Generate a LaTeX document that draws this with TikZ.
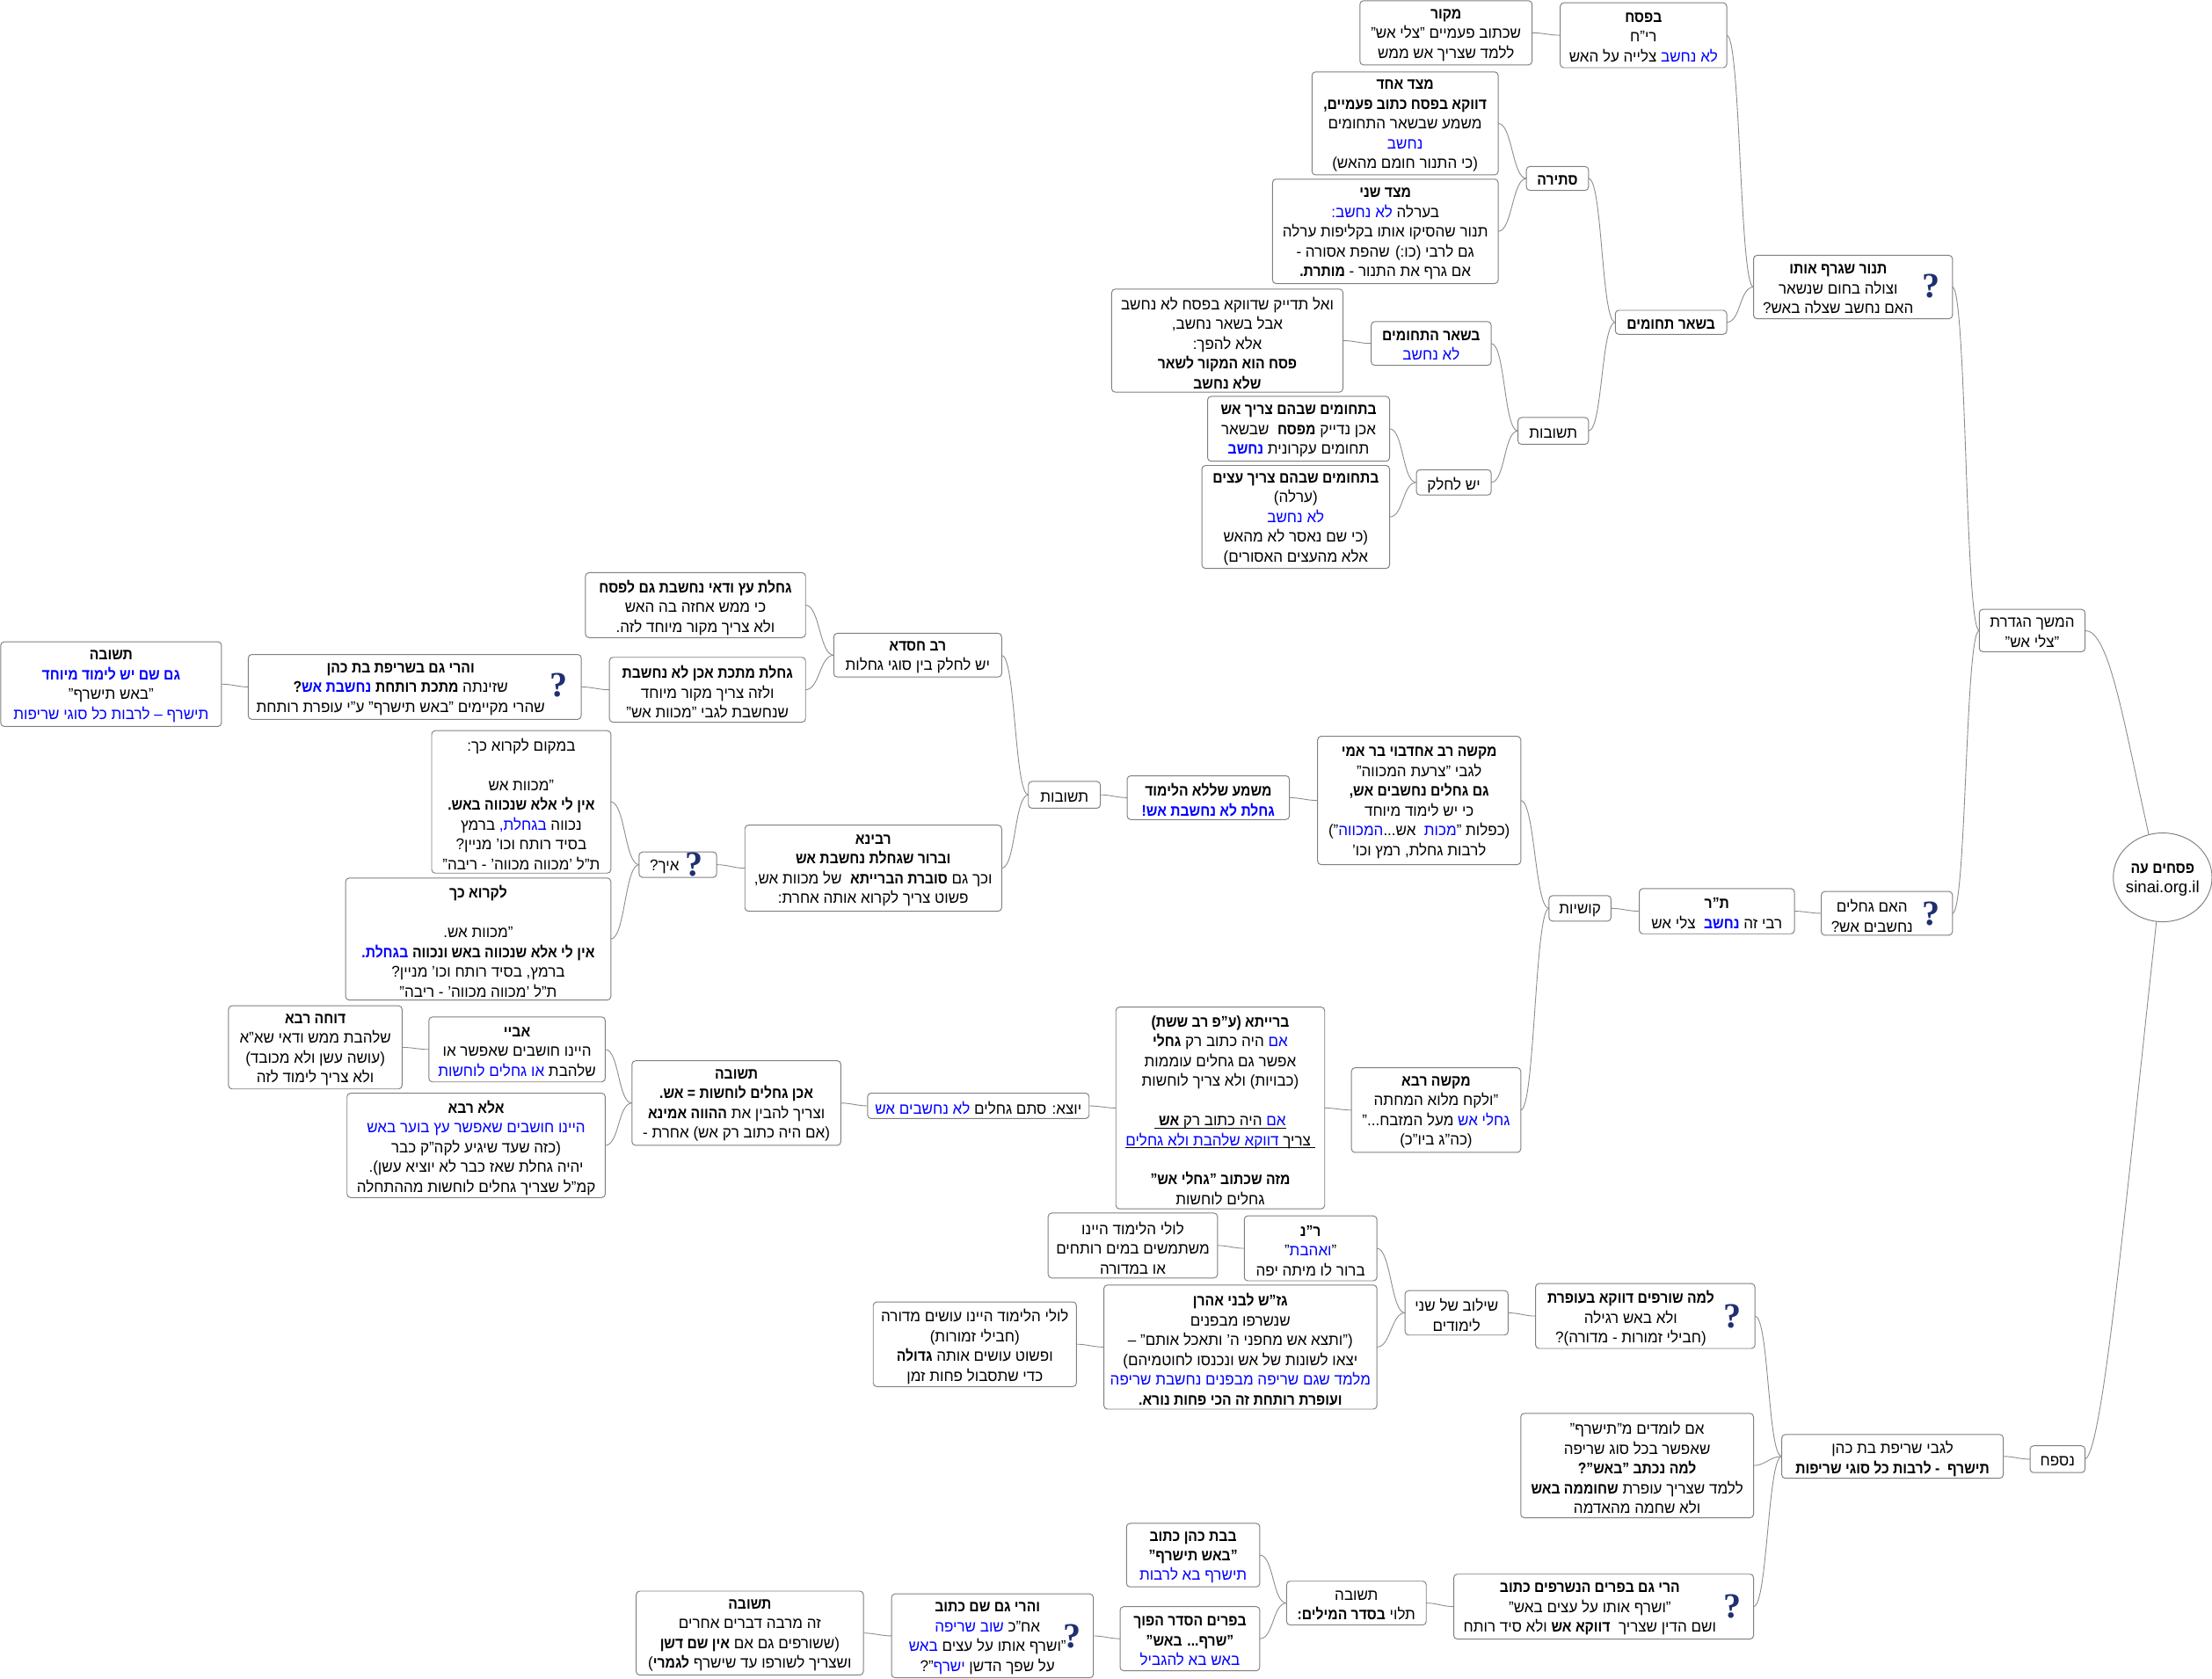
\documentclass[tikz,border=0pt]{standalone}
\usepackage{fontspec}
\usetikzlibrary{shapes.geometric}
\setmainfont[Script=Hebrew,FakeStretch=0.965,BoldFeatures={FakeStretch=0.89}]{Liberation Sans}
\newfontfamily\qfont{Liberation Serif}
\newfontfamily\latinfont{Liberation Sans}
\TeXXeTstate=1
\definecolor{edgegray}{HTML}{8C8C8C}
\definecolor{boxgray}{HTML}{808080}
\definecolor{qnavy}{HTML}{1F2F70}
\newcommand\rl[1]{\beginR #1\endR}
\newcommand\bl[1]{\textcolor{blue}{\rl{#1}}}
\newcommand\B[1]{\textbf{#1}}
\newcommand\gap{\mbox{}}
\newcommand\ulline[1]{\vtop{\hbox{#1}\kern-.6pt\hrule height .55pt}}
\tikzset{
  mapbox/.style={draw=boxgray,line width=.6pt,rounded corners=2.5pt,fill=white,inner sep=0pt,outer sep=0pt},
  maptext/.style={inner sep=0pt,outer sep=0pt,align=center,font=\fontsize{11}{14}\selectfont},
  qicon/.style={inner sep=0pt,outer sep=0pt,text=qnavy,font=\fontsize{25}{25}\qfont\bfseries},
  rootshape/.style={ellipse,draw=boxgray,line width=.6pt,fill=white,inner sep=0pt,outer sep=0pt},
  link/.style={draw=edgegray,line width=.55pt,out=0,in=180,max distance=10pt},
  rootlink/.style={draw=edgegray,line width=.55pt}
}
% name x1 y1 x2 y2 content
\newcommand\bx[6]{\node[mapbox,minimum width={(#4-#2)*1pt},minimum height={(#5-#3)*1pt}] (#1) at ({(#2+#4)/2},{(#3+#5)/2}) {};
  \node[maptext] (#1t) at ({(#2+#4)/2},{(#3+#5)/2+1.7}) {#6};}
% name x1 y1 x2 y2 textcx qx qy content
\newcommand\bxq[9]{\node[mapbox,minimum width={(#4-#2)*1pt},minimum height={(#5-#3)*1pt}] (#1) at ({(#2+#4)/2},{(#3+#5)/2}) {};
  \node[maptext] (#1t) at (#6,{(#3+#5)/2+1.7}) {#9};
  \node[qicon] (#1q) at (#7,#8) {?};}
\begin{document}
\begin{tikzpicture}[x=1pt,y=-1pt]
\useasboundingbox (0,0) rectangle (1568,1190);
\fill[white] (0,0) rectangle (1568,1190);
% root
\node[rootshape,minimum width=70pt,minimum height=63pt] (root) at (1533,622) {};
\node[maptext] (roott) at (1533,624) {\rl{\B{פסחים עה}}\\{\latinfont\fontsize{11.6}{14}\selectfont sinai.org.il}};
% level 1
\bx{hemshech}{1403}{432}{1478}{462}{\rl{המשך הגדרת}\\\rl{"צלי אש"}}
\bx{nisfach}{1439}{1025}{1478}{1044}{\rl{נספח}}
% upper branch
\bxq{hagech}{1291}{632}{1384}{663}{1327}{1369}{648}{\rl{האם גחלים}\\\rl{נחשבים אש?}}
\bxq{tanur}{1243}{181}{1384}{226}{1303}{1369}{203}{\rl{\B{תנור שגרף אותו}}\\\rl{וצולה בחום שנשאר}\\\rl{האם נחשב שצלה באש?}}
\bx{sheart}{1145}{220}{1224}{237}{\rl{\B{בשאר תחומים}}}
\bx{pesach}{1106}{2}{1224}{48}{\rl{\B{בפסח}}\\\rl{רי"ח}\\\rl{צלייה על האש}\ \bl{לא נחשב}}
\bx{mekor}{964}{0.5}{1086}{46}{\rl{\B{מקור}}\\\rl{שכתוב פעמיים "צלי אש"}\\\rl{ללמד שצריך אש ממש}}
\bx{stira}{1082}{118}{1126}{135}{\rl{\B{סתירה}}}
\bx{mitzad1}{930}{51}{1062}{124}{\rl{\B{מצד אחד}}\\\rl{\B{דווקא בפסח כתוב פעמיים,}}\\\rl{משמע שבשאר התחומים}\\\bl{נחשב}\\\rl{(כי התנור חומם מהאש)}}
\bx{mitzad2}{902}{127}{1062}{201}{\rl{\B{מצד שני}}\\\bl{לא נחשב:}\ \rl{בערלה}\\\rl{תנור שהסיקו אותו בקליפות ערלה}\\\rl{גם לרבי (כו:) שהפת אסורה -}\\\rl{אם גרף את התנור - \B{מותרת.}}}
\bx{teshuvot}{1076}{296}{1126}{315}{\rl{תשובות}}
\bx{bshear}{972}{228}{1057}{259}{\rl{\B{בשאר התחומים}}\\\bl{לא נחשב}}
\bx{altadayek}{788}{205}{952}{278}{\rl{ואל תדייק שדווקא בפסח לא נחשב}\\\rl{אבל בשאר נחשב,}\\\rl{אלא להפך:}\\\rl{\B{פסח הוא המקור לשאר}}\\\rl{\B{שלא נחשב}}}
\bx{yesh}{1004}{333}{1057}{351}{\rl{יש לחלק}}
\bx{tchesh}{856}{281}{985}{327}{\rl{\B{בתחומים שבהם צריך אש}}\\\rl{אכן נדייק \B{מפסח}\ \ שבשאר}\\\bl{\B{נחשב}}\ \rl{תחומים עקרונית}}
\bx{tchetz}{852}{330}{985}{403}{\rl{\B{בתחומים שבהם צריך עצים}}\\\rl{(ערלה)}\\\bl{לא נחשב}\\\rl{(כי שם נאסר לא מהאש}\\\rl{אלא מהעצים האסורים)}}
% middle branch
\bx{tr}{1162}{630}{1272}{662}{\rl{\B{ת"ר}}\\\rl{צלי אש}\ \ \bl{\B{נחשב}}\ \rl{רבי זה}}
\bx{kushiot}{1098}{635}{1142}{653}{\rl{קושיות}}
\bx{maksha}{934}{522}{1078}{613}{\rl{\B{מקשה רב אחדבוי בר אמי}}\\\rl{לגבי "צרעת המכווה"}\\\rl{\B{גם גחלים נחשבים אש,}}\\\rl{כי יש לימוד מיוחד}\\\rl{")}\bl{המכווה}\rl{אש...}\ \ \bl{מכות}\rl{(כפלות "}\\\rl{לרבות גחלת, רמץ וכו'}}
\bx{mashma}{799}{550}{914}{581}{\rl{\B{משמע שללא הלימוד}}\\\bl{\B{גחלת לא נחשבת אש!}}}
\bx{teshuvotb}{729}{554}{780}{573}{\rl{תשובות}}
\bx{chisda}{591}{449}{710}{480}{\rl{\B{רב חסדא}}\\\rl{יש לחלק בין סוגי גחלות}}
\bx{ravina}{528}{585}{710}{646}{\rl{\B{רבינא}}\\\rl{\B{וברור שגחלת נחשבת אש}}\\\rl{וכך גם \B{סוברת הברייתא}\ \ של מכוות אש,}\\\rl{פשוט צריך לקרוא אותה אחרת:}}
\bx{gachetz}{415}{406}{571}{452}{\rl{\B{גחלת עץ ודאי נחשבת גם לפסח}}\\\rl{כי ממש אחזה בה האש}\\\rl{ולא צריך מקור מיוחד לזה.}}
\bx{gachmat}{432}{466}{571}{512}{\rl{\B{גחלת מתכת אכן לא נחשבת}}\\\rl{ולזה צריך מקור מיוחד}\\\rl{שנחשבת לגבי "מכוות אש"}}
\bxq{vaharei}{176}{464}{412}{510}{284}{396}{486}{\rl{\B{והרי גם בשריפת בת כהן}}\\\rl{\B{?}}\bl{\B{נחשבת אש}}\ \rl{שזינתה \B{מתכת רותחת}}\\\rl{שהרי מקיימים "באש תישרף" ע"י עופרת רותחת}}
\bx{teshl}{0.5}{455}{157}{515}{\rl{\B{תשובה}}\\\bl{\B{גם שם יש לימוד מיוחד}}\\\rl{"באש תישרף"}\\\bl{תישרף – לרבות כל סוגי שריפות}}
\bxq{ech}{453}{604}{508}{622}{471}{492}{613}{\rl{איך?}}
\bx{bamakom}{306}{518}{433}{619}{\rl{במקום לקרוא כך:}\\\gap\\\rl{"מכוות אש}\\\rl{\B{אין לי אלא שנכווה באש.}}\\\rl{ברמץ}\ \bl{בגחלת,}\ \rl{נכווה}\\\rl{בסיד רותח וכו' מניין?}\\\rl{ת"ל 'מכווה מכווה' - ריבה"}}
\bx{likro}{245}{622.5}{433}{709}{\rl{\B{לקרוא כך}}\\\gap\\\rl{"מכוות אש.}\\\bl{\B{בגחלת.}}\ \rl{\B{אין לי אלא שנכווה באש ונכווה}}\\\rl{ברמץ, בסיד רותח וכו' מניין?}\\\rl{ת"ל 'מכווה מכווה' - ריבה"}}
\bx{maksharava}{958}{757}{1078}{817}{\rl{\B{מקשה רבא}}\\\rl{"ולקח מלוא המחתה}\\\rl{מעל המזבח..."}\ \bl{גחלי אש}\\\rl{(כה"ג ביו"כ)}}
\bx{braita}{791}{714}{939}{857}{\rl{\B{ברייתא (ע"פ רב ששת)}}\\\rl{היה כתוב רק \B{גחלי}}\ \bl{אם}\\\rl{אפשר גם גחלים עוממות}\\\rl{(כבויות) ולא צריך לוחשות}\\\gap\\\ulline{\ \rl{היה כתוב רק \B{אש}}\ \bl{אם}}\\\ulline{\bl{דווקא שלהבת ולא גחלים}\ \rl{צריך}\ }\\\gap\\\rl{\B{מזה שכתוב "גחלי אש"}}\\\rl{גחלים לוחשות}}
\bx{yotze}{615}{775}{772}{793}{\bl{לא נחשבים אש}\ \rl{יוצא: סתם גחלים}}
\bx{teshmid}{448}{752}{596}{812}{\rl{\B{תשובה}}\\\rl{\B{אכן גחלים לוחשות = אש.}}\\\rl{וצריך להבין את \B{ההווה אמינא}}\\\rl{(אם היה כתוב רק אש) אחרת -}}
\bx{abaye}{304}{721}{429}{767}{\rl{\B{אביי}}\\\rl{היינו חושבים שאפשר או}\\\bl{או גחלים לוחשות}\ \rl{שלהבת}}
\bx{elarava}{246}{775}{429}{849}{\rl{\B{אלא רבא}}\\\bl{היינו חושבים שאפשר עץ בוער באש}\\\rl{(כזה שעד שיגיע לקה"ק כבר}\\\rl{יהיה גחלת שאז כבר לא יוציא עשן).}\\\rl{קמ"ל שצריך גחלים לוחשות מההתחלה}}
\bx{dache}{162}{713}{285}{772}{\rl{\B{דוחה רבא}}\\\rl{שלהבת ממש ודאי שא"א}\\\rl{(עושה עשן ולא מכובד)}\\\rl{ולא צריך לימוד לזה}}
% lower branch
\bx{lgabei}{1263}{1017}{1420}{1048}{\rl{לגבי שריפת בת כהן}\\\rl{\B{תישרף\ \ - לרבות כל סוגי שריפות}}}
\bxq{lama}{1088.5}{910}{1244}{956}{1156}{1228}{933}{\rl{\B{למה שורפים דווקא בעופרת}}\\\rl{ולא באש רגילה}\\\rl{(חבילי זמורות - מדורה)?}}
\bx{imlomdim}{1078}{1002}{1243}{1076}{\rl{אם לומדים מ"תישרף"}\\\rl{שאפשר בכל סוג שריפה}\\\rl{\B{למה נכתב "באש"?}}\\\rl{ללמד שצריך עופרת \B{שחוממה באש}}\\\rl{ולא שחמה מהאדמה}}
\bxq{harei}{1030.5}{1116}{1243}{1162}{1127}{1228}{1139}{\rl{\B{הרי גם בפרים הנשרפים כתוב}}\\\rl{"ושרף אותו על עצים באש"}\\\rl{ושם הדין שצריך\ \ \B{דווקא אש} ולא סיד רותח}}
\bx{shiluv}{996}{915}{1069}{946.5}{\rl{שילוב של שני}\\\rl{לימודים}}
\bx{ran}{882}{862}{976}{908}{\rl{\B{ר"נ}}\\\rl{"}\bl{ואהבת}\rl{"}\\\rl{ברור לו מיתה יפה}}
\bx{luleia}{743}{860}{863}{906}{\rl{לולי הלימוד היינו}\\\rl{משתמשים במים רותחים}\\\rl{או במדורה}}
\bx{gzsh}{782.5}{911}{976}{999}{\rl{\B{גז"ש לבני אהרן}}\\\rl{שנשרפו מבפנים}\\\rl{("ותצא אש מחפני ה' ותאכל אותם" –}\\\rl{יצאו לשונות של אש ונכנסו לחוטמיהם)}\\\bl{מלמד שגם שריפה מבפנים נחשבת שריפה}\\\rl{\B{ועופרת רותחת זה הכי פחות נורא.}}}
\bx{luleib}{619}{923}{763}{983}{\rl{לולי הלימוד היינו עושים מדורה}\\\rl{(חבילי זמורות)}\\\rl{ופשוט עושים אותה \B{גדולה}}\\\rl{כדי שתסבול פחות זמן}}
\bx{teshb}{912}{1121}{1011}{1152}{\rl{תשובה}\\\rl{תלוי \B{בסדר המילים:}}}
\bx{bevat}{798.5}{1080}{893}{1125}{\rl{\B{בבת כהן כתוב}}\\\rl{\B{"באש תישרף"}}\\\bl{תישרף בא לרבות}}
\bx{befarim}{794}{1139}{893}{1184.5}{\rl{\B{בפרים הסדר הפוך}}\\\rl{\B{"שרף... באש"}}\\\bl{באש בא להגביל}}
\bxq{vahareib}{632}{1130}{775}{1189.5}{700}{760}{1160}{\rl{\B{והרי גם שם כתוב}}\\\bl{שוב שריפה}\ \rl{אח"כ}\\\bl{באש}\ \rl{"ושרף אותו על עצים}\\\rl{"?}\bl{ישרף}\ \rl{על שפך הדשן}}
\bx{teshlast}{451}{1128}{612}{1187.5}{\rl{\B{תשובה}}\\\rl{זה מרבה דברים אחרים}\\\rl{(ששורפים גם אם \B{אין שם דשן}}\\\rl{ושצריך לשורפו עד שישרף \B{לגמרי})}}
% connectors
\draw[rootlink] (hemshech.east) .. controls (1495,447) and (1505,510) .. (root.108);
\draw[rootlink] (nisfach.east) .. controls (1490,1030) and (1505,870) .. (root.262);
\foreach \c/\p in {tanur/hemshech,hagech/hemshech,tr/hagech,kushiot/tr,maksha/kushiot,maksharava/kushiot,mashma/maksha,teshuvotb/mashma,chisda/teshuvotb,ravina/teshuvotb,gachetz/chisda,gachmat/chisda,vaharei/gachmat,teshl/vaharei,ech/ravina,bamakom/ech,likro/ech,braita/maksharava,yotze/braita,teshmid/yotze,abaye/teshmid,elarava/teshmid,dache/abaye,sheart/tanur,pesach/tanur,mekor/pesach,stira/sheart,mitzad1/stira,mitzad2/stira,teshuvot/sheart,bshear/teshuvot,altadayek/bshear,yesh/teshuvot,tchesh/yesh,tchetz/yesh,lgabei/nisfach,lama/lgabei,imlomdim/lgabei,harei/lgabei,shiluv/lama,ran/shiluv,gzsh/shiluv,luleia/ran,luleib/gzsh,teshb/harei,bevat/teshb,befarim/teshb,vahareib/befarim,teshlast/vahareib}
  \draw[link] (\c.east) to (\p.west);
\end{tikzpicture}
\end{document}
